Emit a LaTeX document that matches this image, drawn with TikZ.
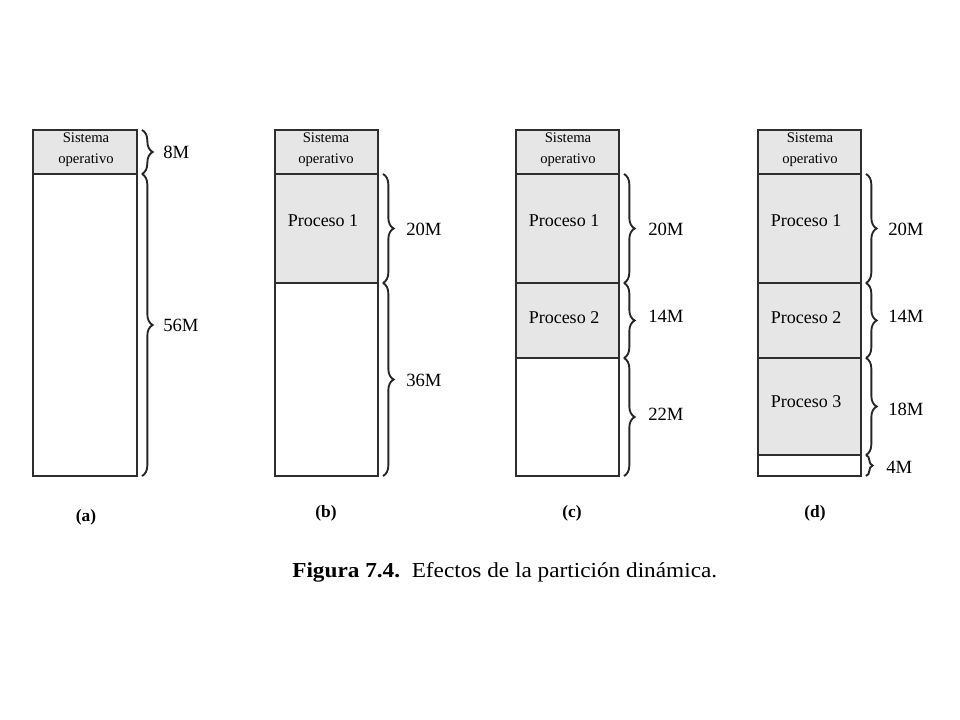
\documentclass[tikz,border=0pt]{standalone}
\usepackage{fontspec}
\setmainfont{Liberation Serif}
\usetikzlibrary{decorations.pathreplacing}
\definecolor{segfill}{HTML}{E6E6E6}
\definecolor{segline}{HTML}{2E2E2E}
\tikzset{
  x=0.75pt, y=-0.75pt,
  usedseg/.style={draw=segline, line width=1.7pt, fill=segfill},
  freeseg/.style={draw=segline, line width=1.7pt, fill=white},
  membrace/.style={decorate, decoration={brace, amplitude=8pt}, draw=black!85, line width=1.4pt},
  sizelbl/.style={anchor=west, font=\fontsize{14}{16}\selectfont, inner sep=0pt},
  proclbl/.style={font=\fontsize{13.5}{16}\selectfont, inner sep=0pt},
  oslbl/.style={font=\fontsize{11}{13}\selectfont, inner sep=0pt},
  sublbl/.style={font=\bfseries\fontsize{13}{15}\selectfont, inner sep=0pt},
}
\begin{document}
\begin{tikzpicture}
\useasboundingbox (0,0) rectangle (960,720);
% ---------- (a)
\draw[freeseg] (33,174) rectangle (137,476);
\draw[usedseg] (33,130) rectangle (137,174);
\node[oslbl] (aos1) at (86,138) {Sistema};
\node[oslbl] (aos2) at (86,160) {operativo};
\coordinate (ab0) at (142,130); \coordinate (ab1) at (142,174); \coordinate (ab2) at (142,476);
\draw[membrace] (ab0) -- (ab1);
\draw[membrace] (ab1) -- (ab2);
\node[sizelbl] (a8) at (163,152) {8M};
\node[sizelbl] (a56) at (163,325) {56M};
\node[sublbl] (la) at (86,517) {(a)};
% ---------- (b)
\draw[freeseg] (275,283) rectangle (378,476);
\draw[usedseg] (275,174) rectangle (378,283);
\draw[usedseg] (275,130) rectangle (378,174);
\node[oslbl] (bos1) at (326,138) {Sistema};
\node[oslbl] (bos2) at (326,160) {operativo};
\node[proclbl] (bp1) at (323,221) {Proceso 1};
\coordinate (bb1) at (383,174); \coordinate (bb2) at (383,283); \coordinate (bb3) at (383,476);
\draw[membrace] (bb1) -- (bb2);
\draw[membrace] (bb2) -- (bb3);
\node[sizelbl] (b20) at (406,229) {20M};
\node[sizelbl] (b36) at (406,380) {36M};
\node[sublbl] (lb) at (326,513) {(b)};
% ---------- (c)
\draw[freeseg] (516,358) rectangle (619,476);
\draw[usedseg] (516,283) rectangle (619,358);
\draw[usedseg] (516,174) rectangle (619,283);
\draw[usedseg] (516,130) rectangle (619,174);
\node[oslbl] (cos1) at (568,138) {Sistema};
\node[oslbl] (cos2) at (568,160) {operativo};
\node[proclbl] (cp1) at (564,221) {Proceso 1};
\node[proclbl] (cp2) at (564,318) {Proceso 2};
\coordinate (cb1) at (624,174); \coordinate (cb2) at (624,283); \coordinate (cb3) at (624,358); \coordinate (cb4) at (624,476);
\draw[membrace] (cb1) -- (cb2);
\draw[membrace] (cb2) -- (cb3);
\draw[membrace] (cb3) -- (cb4);
\node[sizelbl] (c20) at (648,229) {20M};
\node[sizelbl] (c14) at (648,316) {14M};
\node[sizelbl] (c22) at (648,414) {22M};
\node[sublbl] (lc) at (572,513) {(c)};
% ---------- (d)
\draw[freeseg] (758,455) rectangle (861,476);
\draw[usedseg] (758,358) rectangle (861,455);
\draw[usedseg] (758,283) rectangle (861,358);
\draw[usedseg] (758,174) rectangle (861,283);
\draw[usedseg] (758,130) rectangle (861,174);
\node[oslbl] (dos1) at (810,138) {Sistema};
\node[oslbl] (dos2) at (810,160) {operativo};
\node[proclbl] (dp1) at (806,221) {Proceso 1};
\node[proclbl] (dp2) at (806,318) {Proceso 2};
\node[proclbl] (dp3) at (806,402) {Proceso 3};
\coordinate (db1) at (866,174); \coordinate (db2) at (866,283); \coordinate (db3) at (866,358); \coordinate (db4) at (866,455); \coordinate (db5) at (866,476);
\draw[membrace] (db1) -- (db2);
\draw[membrace] (db2) -- (db3);
\draw[membrace] (db3) -- (db4);
\draw[membrace, decoration={brace, amplitude=5pt}] (db4) -- (db5);
\node[sizelbl] (d20) at (888,229) {20M};
\node[sizelbl] (d14) at (888,316) {14M};
\node[sizelbl] (d18) at (888,409) {18M};
\node[sizelbl] (d4) at (886,467) {4M};
\node[sublbl] (ld) at (815,513) {(d)};
% ---------- caption
\node[font=\fontsize{16}{18}\selectfont, inner sep=0pt, anchor=west, xscale=1.09] (cap) at (292,572) {\textbf{Figura 7.4.}\ \ Efectos de la partición dinámica.};
\end{tikzpicture}
\end{document}
